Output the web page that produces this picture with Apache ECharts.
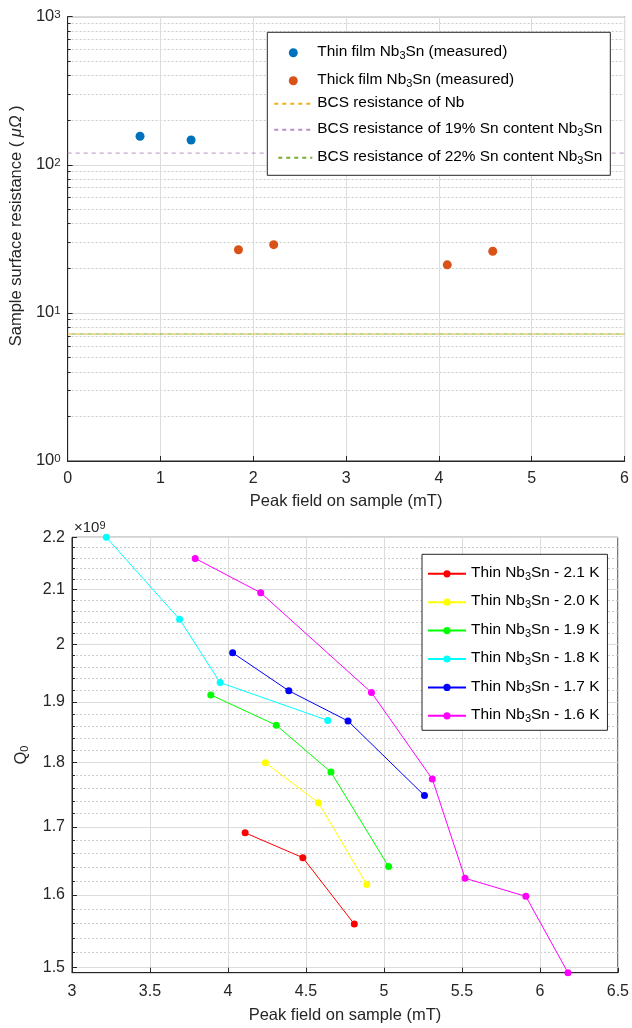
<!DOCTYPE html>
<html><head><meta charset="utf-8">
<script src="https://cdn.jsdelivr.net/npm/echarts@6/dist/echarts.min.js"></script>
<style>html,body{margin:0;padding:0;background:#fff}#c{width:632px;height:1028px}</style>
</head><body><div id="c"></div>
<script>
// ---------- Top chart data ----------
const thinFieldMT = [0.78, 1.33];
const thinRsMicroOhm = [156, 147];
const thickFieldMT = [1.84, 2.22, 4.09, 4.58];
const thickRsMicroOhm = [26.7, 28.9, 21.1, 26.1];
const bcsFieldRange = [0, 6];
const bcsNb = 7.2;
const bcs19Sn = 120;
const bcs22Sn = 7.2;
const topXTicks = [0, 1, 2, 3, 4, 5, 6];
const topYTicks = [1, 10, 100, 1000];
const topYMinorTicks = [2,3,4,5,6,7,8,9,20,30,40,50,60,70,80,90,200,300,400,500,600,700,800,900];

// ---------- Bottom chart data (Q0 in units of 1e9) ----------
const temps = ['2.1', '2.0', '1.9', '1.8', '1.7', '1.6'];
const field21 = [4.11, 4.48, 4.81];
const q21 = [1.691, 1.654, 1.559];
const field20 = [4.24, 4.58, 4.89];
const q20 = [1.800, 1.737, 1.615];
const field19 = [3.89, 4.31, 4.66, 5.03];
const q19 = [1.912, 1.861, 1.785, 1.641];
const field18 = [3.22, 3.69, 3.95, 4.64];
const q18 = [2.200, 2.045, 1.933, 1.869];
const field17 = [4.03, 4.39, 4.77, 5.26];
const q17 = [1.985, 1.919, 1.868, 1.748];
const field16 = [3.79, 4.21, 4.92, 5.31, 5.52, 5.91, 6.18];
const q16 = [2.159, 2.094, 1.916, 1.774, 1.624, 1.598, 1.493];
const botXTicks = [3, 3.5, 4, 4.5, 5, 5.5, 6, 6.5];
const botYTicks = [1.5, 1.6, 1.7, 1.8, 1.9, 2.0, 2.1, 2.2];
const botYMinorTicks = [1.52,1.54,1.56,1.58,1.62,1.64,1.66,1.68,1.72,1.74,1.76,1.78,1.82,1.84,1.86,1.88,1.92,1.94,1.96,1.98,2.02,2.04,2.06,2.08,2.12,2.14,2.16,2.18];
const botYMin = 1.493, botYMax = 2.2;

const FONT = '"Liberation Sans", Arial, sans-serif';
const AX = '#262626';
const GRIDC = '#dcdcdc';
const MINC = '#cccccc';
const zip = (a, b) => a.map((v, i) => [v, b[i]]);

const legendRich = {
  t: {fontSize: 15.4, fontFamily: FONT, color: '#000', lineHeight: 17, verticalAlign: 'top'},
  sub: {fontSize: 11, fontFamily: FONT, color: '#000', lineHeight: 11, verticalAlign: 'bottom', padding: [11, 0, 0, 0]}
};
function subName(s) {
  return s.split('Nb3Sn').map(p => p ? '{t|' + p + '}' : '').join('{t|Nb}{sub|3}{t|Sn}');
}

const topNames = ['Thin film Nb3Sn (measured)', 'Thick film Nb3Sn (measured)', 'BCS resistance of Nb',
  'BCS resistance of 19% Sn content Nb3Sn', 'BCS resistance of 22% Sn content Nb3Sn'];
const botNames = temps.map(t => 'Thin Nb3Sn - ' + t + ' K');
const botColors = ['#ff0000', '#ffff00', '#00ff00', '#00ffff', '#0000ff', '#ff00ff'];
const botFields = [field21, field20, field19, field18, field17, field16];
const botQ = [q21, q20, q19, q18, q17, q16];

const labelStyle = {fontSize: 16, fontFamily: FONT, color: AX};

const topLegendData = topNames.map((n, i) => i < 2 ? {name: n} : {name: n, itemStyle: {opacity: 0}});

const option = {
  animation: false,
  backgroundColor: '#fff',
  textStyle: {fontFamily: FONT},
  grid: [
    {left: 65.5, top: 16.7, width: 563.5, height: 444.3, show: true, borderColor: AX, borderWidth: 1},
    {left: 70, top: 537.3, width: 551.5, height: 435.4, show: true, borderColor: AX, borderWidth: 1}
  ],
  xAxis: [
    {gridIndex: 0, type: 'value', min: 0, max: 6, interval: 1,
     axisLine: {lineStyle: {color: AX}}, axisTick: {inside: true, length: 5, lineStyle: {color: AX}},
     axisLabel: Object.assign({margin: 10, customValues: topXTicks}, labelStyle),
     splitLine: {show: true, lineStyle: {color: GRIDC, width: 1}},
     name: 'Peak field on sample (mT)', nameLocation: 'middle', nameGap: 32,
     nameTextStyle: {fontSize: 16.5, fontFamily: FONT, color: AX}},
    {gridIndex: 1, type: 'value', min: 3, max: 6.5, interval: 0.5,
     axisLine: {lineStyle: {color: AX}}, axisTick: {inside: true, length: 5, lineStyle: {color: AX}},
     axisLabel: Object.assign({margin: 11, customValues: botXTicks}, labelStyle),
     splitLine: {show: true, lineStyle: {color: GRIDC, width: 1}},
     name: 'Peak field on sample (mT)', nameLocation: 'middle', nameGap: 34,
     nameTextStyle: {fontSize: 16.5, fontFamily: FONT, color: AX}}
  ],
  yAxis: [
    {gridIndex: 0, type: 'log', min: 1, max: 1000, position: 'left',
     axisLine: {lineStyle: {color: AX}},
     axisTick: {inside: true, length: 5, customValues: topYTicks, lineStyle: {color: AX}},
     axisLabel: {margin: 7, customValues: topYTicks,
       formatter: v => '{b|10}{sup|' + Math.round(Math.log10(v)) + '}',
       rich: {b: {fontSize: 16.5, fontFamily: FONT, color: AX, lineHeight: 16, verticalAlign: 'bottom'},
              sup: {fontSize: 11.5, fontFamily: FONT, color: AX, lineHeight: 11, verticalAlign: 'top', padding: [0, 0, 9, 0]}}},
     splitLine: {show: true, lineStyle: {color: GRIDC, width: 1}},
     name: 'Sample surface resistance ( {i|μΩ} )', nameLocation: 'middle', nameGap: 40,
     nameTextStyle: {fontSize: 16.5, fontFamily: FONT, color: AX, padding: [0, 0, 0, 26],
       rich: {i: {fontSize: 16.5, fontFamily: FONT, fontStyle: 'italic', color: AX}}}},
    {gridIndex: 0, type: 'log', min: 1, max: 1000, position: 'left',
     axisLine: {show: false},
     axisTick: {inside: true, length: 3, customValues: topYMinorTicks, lineStyle: {color: AX}},
     axisLabel: {show: false, customValues: topYMinorTicks},
     splitLine: {show: true, lineStyle: {color: MINC, width: 1, type: [2, 2]}}},
    {gridIndex: 1, type: 'log', min: botYMin, max: botYMax, position: 'left',
     axisLine: {lineStyle: {color: AX}},
     axisTick: {inside: true, length: 5, customValues: botYTicks, lineStyle: {color: AX}},
     axisLabel: Object.assign({margin: 7, customValues: botYTicks,
       formatter: v => String(+(+v).toFixed(2))}, labelStyle),
     splitLine: {show: true, lineStyle: {color: GRIDC, width: 1}},
     name: '{q|Q}{s|0}', nameLocation: 'middle', nameGap: 42,
     nameTextStyle: {color: AX, rich: {
       q: {fontSize: 16.5, fontFamily: FONT, color: AX, lineHeight: 17, verticalAlign: 'top'},
       s: {fontSize: 11, fontFamily: FONT, color: AX, lineHeight: 11, verticalAlign: 'bottom', padding: [11, 0, 0, 0]}}}},
    {gridIndex: 1, type: 'log', min: botYMin, max: botYMax, position: 'left',
     axisLine: {show: false},
     axisTick: {inside: true, length: 3, customValues: botYMinorTicks, lineStyle: {color: AX}},
     axisLabel: {show: false, customValues: botYMinorTicks},
     splitLine: {show: true, lineStyle: {color: MINC, width: 1, type: [2, 2]}},
     name: '{x|×10}{sup|9}', nameLocation: 'end', nameGap: 2,
     nameTextStyle: {align: 'left', padding: [0, 0, 0, 2], rich: {
       x: {fontSize: 15, fontFamily: FONT, color: AX, lineHeight: 15, verticalAlign: 'bottom'},
       sup: {fontSize: 11, fontFamily: FONT, color: AX, lineHeight: 11, verticalAlign: 'top', padding: [0, 0, 8, 0]}}}}
  ],
  legend: [
    {data: topLegendData, left: 267.3, top: 32.3, orient: 'vertical', selectedMode: false,
     backgroundColor: '#fff', borderColor: AX, borderWidth: 1, padding: [7, 8, 9, 6],
     itemWidth: 38, itemHeight: 9, itemGap: 6,
     formatter: n => subName(n), textStyle: {rich: legendRich}},
    {data: botNames, left: 422, top: 554.3, orient: 'vertical', selectedMode: false,
     backgroundColor: '#fff', borderColor: AX, borderWidth: 1, padding: [6, 8, 6, 5],
     itemWidth: 38, itemHeight: 9, itemGap: 6.4,
     formatter: n => subName(n), textStyle: {rich: legendRich}}
  ],
  series: [
    {name: topNames[2], type: 'line', xAxisIndex: 0, yAxisIndex: 0, symbol: 'none',
     data: zip(bcsFieldRange, [bcsNb, bcsNb]), color: '#EDB120',
     lineStyle: {color: '#EDB120', width: 1, type: [4, 4], dashOffset: 0}, z: 3},
    {name: topNames[3], type: 'line', xAxisIndex: 0, yAxisIndex: 0, symbol: 'none',
     data: zip(bcsFieldRange, [bcs19Sn, bcs19Sn]), color: '#b98ac4',
     lineStyle: {color: '#b98ac4', width: 1, type: [4, 4]}, z: 3},
    {name: topNames[4], type: 'line', xAxisIndex: 0, yAxisIndex: 0, symbol: 'none',
     data: zip(bcsFieldRange, [bcs22Sn, bcs22Sn]), color: '#77AC30',
     lineStyle: {color: '#77AC30', width: 1, type: [4, 4], dashOffset: 4}, z: 4},
    {name: topNames[0], type: 'scatter', xAxisIndex: 0, yAxisIndex: 0, symbol: 'circle', symbolSize: 9,
     data: zip(thinFieldMT, thinRsMicroOhm), itemStyle: {color: '#0072BD', opacity: 1}, z: 5},
    {name: topNames[1], type: 'scatter', xAxisIndex: 0, yAxisIndex: 0, symbol: 'circle', symbolSize: 9,
     data: zip(thickFieldMT, thickRsMicroOhm), itemStyle: {color: '#D95319', opacity: 1}, z: 5}
  ].concat(botNames.map((n, i) => ({
    name: n, type: 'line', xAxisIndex: 1, yAxisIndex: 2, symbol: 'circle', symbolSize: 7, showSymbol: true,
    data: zip(botFields[i], botQ[i]), color: botColors[i],
    lineStyle: {color: botColors[i], width: 1}, itemStyle: {color: botColors[i]}, z: 5
  })))
};

const chart = echarts.init(document.getElementById('c'));
chart.setOption(option);
</script></body></html>
